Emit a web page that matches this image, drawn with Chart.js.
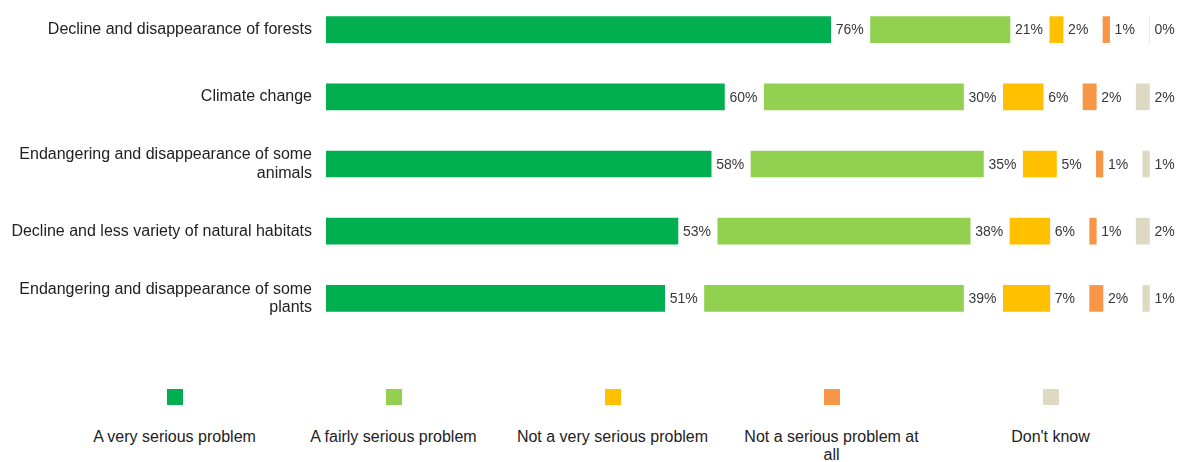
<!DOCTYPE html>
<html>
<head>
<meta charset="utf-8">
<script src="https://cdn.jsdelivr.net/npm/chart.js@4"></script>
<style>
  html, body { margin: 0; padding: 0; background: #fff; }
  body { width: 1179px; height: 462px; position: relative; overflow: hidden;
         font-family: "Liberation Sans", Arial, sans-serif; }
  #wrap { position: absolute; left: 0; top: -4px; width: 1179px; height: 336px; }
  #legend { position: absolute; left: 65px; top: 389px; display: flex; }
  .item { width: 219px; text-align: center; font-size: 16px; color: #222; line-height: 18px; box-sizing: border-box; }
  .box { width: 16px; height: 16px; margin: 0 auto 23px; }
</style>
</head>
<body>
<div id="wrap"><canvas id="chart"></canvas></div>
<div id="legend"></div>
<script>
const categories = [
  'Decline and disappearance of forests',
  'Climate change',
  ['Endangering and disappearance of some', 'animals'],
  'Decline and less variety of natural habitats',
  ['Endangering and disappearance of some', 'plants']
];
const seriesNames = [
  'A very serious problem',
  'A fairly serious problem',
  'Not a very serious problem',
  'Not a serious problem at all',
  "Don't know"
];
const verySerious   = [76, 60, 58, 53, 51];
const fairlySerious = [21, 30, 35, 38, 39];
const notVery       = [2, 6, 5, 6, 7];
const notAtAll      = [1, 2, 1, 1, 2];
const dontKnow      = [0, 2, 1, 2, 1];

const colors = ['#00B050', '#92D050', '#FFC000', '#F79646', '#DDD9C3'];
const GAP = 6; // espacio para la etiqueta de cada segmento

const series = [verySerious, fairlySerious, notVery, notAtAll, dontKnow];

// cada serie va seguida de un segmento transparente donde va la etiqueta
const datasets = [];
series.forEach((values, i) => {
  datasets.push({
    label: seriesNames[i],
    data: values,
    backgroundColor: colors[i],
    stack: 's',
    barThickness: 26,
    isValue: true
  });
  if (i < series.length - 1) {
    datasets.push({
      label: 'gap' + i,
      data: values.map(() => GAP),
      backgroundColor: 'rgba(0,0,0,0)',
      stack: 's',
      barThickness: 26
    });
  }
});

const labelPlugin = {
  id: 'segLabels',
  afterDatasetsDraw(chart) {
    const ctx = chart.ctx;
    ctx.save();
    ctx.font = '14px "Liberation Sans", Arial, sans-serif';
    ctx.fillStyle = '#383838';
    ctx.textBaseline = 'middle';
    ctx.textAlign = 'left';
    chart.data.datasets.forEach((ds, di) => {
      if (!ds.isValue) return;
      chart.getDatasetMeta(di).data.forEach((bar, j) => {
        ctx.fillText(ds.data[j] + '%', bar.x + 5, bar.y + 1);
      });
    });
    ctx.restore();
  }
};

new Chart(document.getElementById('chart'), {
  type: 'bar',
  data: { labels: categories, datasets },
  options: {
    indexAxis: 'y',
    responsive: true,
    maintainAspectRatio: false,
    animation: false,
    layout: { padding: { left: 0, right: 3, top: 0, bottom: 0 } },
    plugins: { legend: { display: false }, tooltip: { enabled: false } },
    scales: {
      x: { stacked: true, min: 0, max: 128, display: false },
      y: {
        stacked: true,
        grid: { display: false, drawTicks: false },
        border: { display: false },
        ticks: {
          padding: 14,
          color: '#222',
          font: { family: '"Liberation Sans", Arial, sans-serif', size: 16, lineHeight: 1.15 }
        },
        afterFit(scale) {
          scale.width = 326;
          scale.paddingTop = 0;
          scale.paddingBottom = 0;
        }
      }
    }
  },
  plugins: [labelPlugin]
});

// leyenda: cuadro encima del texto
const legend = document.getElementById('legend');
seriesNames.forEach((name, i) => {
  const item = document.createElement('div');
  item.className = 'item';
  item.innerHTML = `<div class="box" style="background:${colors[i]}"></div>${name}`;
  if (i === 3) item.style.padding = '0 16px';
  legend.appendChild(item);
});
</script>
</body>
</html>
